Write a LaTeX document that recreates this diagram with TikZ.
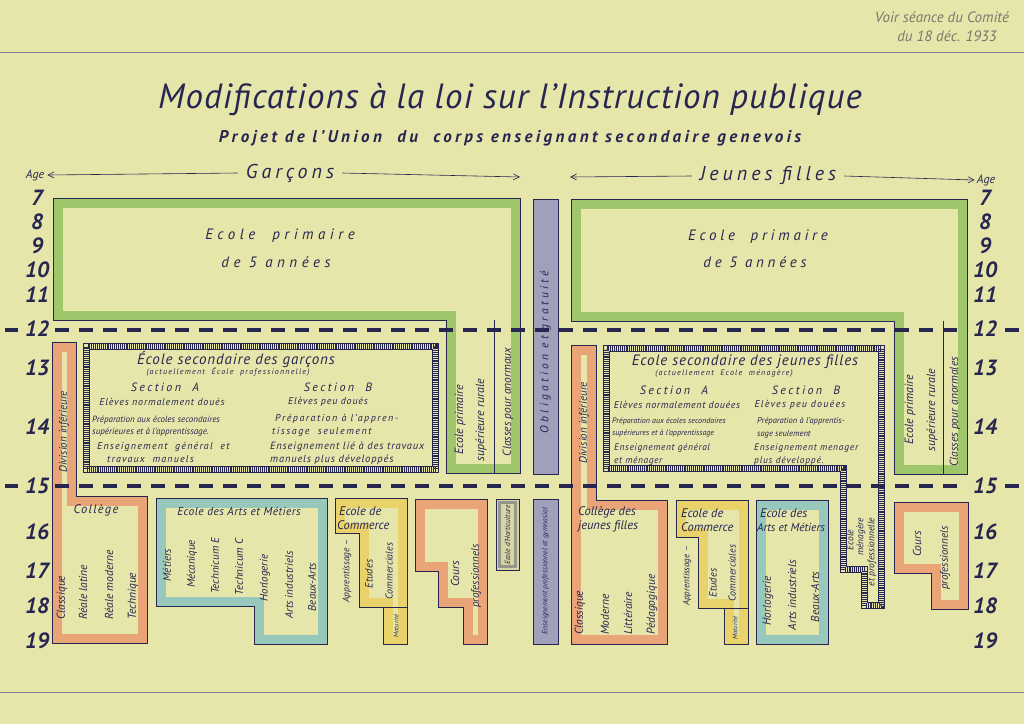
\documentclass[tikz,border=0pt]{standalone}
\usepackage{fontspec}
\setmainfont{PT Sans}
\usetikzlibrary{arrows.meta}
\definecolor{paper}{RGB}{230,229,170}
\definecolor{ink}{RGB}{38,38,80}
\definecolor{grn}{RGB}{112,178,64}
\definecolor{org}{RGB}{236,122,86}
\definecolor{ylw}{RGB}{236,198,64}
\definecolor{tealb}{RGB}{100,182,200}
\definecolor{lav}{RGB}{160,160,186}
\definecolor{hort}{RGB}{150,150,140}
\definecolor{pencil}{RGB}{120,120,110}
\newcommand\myfs[1]{\fontsize{#1}{#1}\selectfont}
\newcommand\lsp[1]{\addfontfeature{LetterSpace=#1}}
\begin{document}
\begin{tikzpicture}[x=1pt,y=-1pt,
  tx/.style={inner sep=0pt,text=ink,font=\itshape\myfs{#1}},
  tx/.default=10,
  rt/.style={inner sep=0pt,text=ink,rotate=90,font=\itshape\myfs{#1}},
  rt/.default=11,
  outl/.style={draw=ink,line width=1pt,line join=miter},
  band/.style={draw=#1,line width=9pt,draw opacity=0.6,line join=miter},
  dbl/.style={draw=ink,line width=7pt,line join=miter,
     postaction={draw=paper,line width=4.4pt},
     postaction={draw=ink,line width=4.4pt,dash pattern=on 0.6pt off 1.3pt}},
  agesep/.style={draw=ink,line width=4.5pt,dash pattern=on 14pt off 10pt},
  agesolid/.style={draw=ink,line width=4.5pt},
  age/.style={inner sep=0pt,text=ink,font=\bfseries\itshape\myfs{22}},
  hdr/.style={-{Straight Barb[length=6pt,width=6pt]},draw=ink,line width=0.6pt},
]
\useasboundingbox (0,0) rectangle (1024,724);
\fill[paper] (0,0) rectangle (1024,724);
\draw[ink!60,line width=0.8pt] (0,52) -- (1024,52);
\draw[ink!60,line width=0.8pt] (0,692) -- (1024,692);

% handwritten note
\node[inner sep=0pt,text=pencil,font=\itshape\myfs{15}] (note1) at (942,17) {Voir séance du Comité};
\node[inner sep=0pt,text=pencil,font=\itshape\myfs{15}] (note2) at (947,36) {du 18 déc. 1933};

% titles
\node[tx=35] (title) at (510,100) {\lsp{3}Modifications à la loi sur l'Instruction publique};
\node[tx=17,font=\bfseries\itshape\myfs{17}] (sub) at (510,138) {\lsp{20}Projet de l'Union\ \ du\ \ corps enseignant secondaire genevois};

% headers
\node[tx=12] (ageL) at (35,175) {Age};
\node[tx=20] (garc) at (290,173) {\lsp{20}Garçons};
\coordinate (garcR) at (520,177);
\draw[hdr] ([xshift=-8pt]garc.west) -- ([xshift=3pt]ageL.east);
\draw[hdr] ([xshift=8pt]garc.east) -- (garcR);
\node[tx=20] (jf) at (768,176) {\lsp{20}Jeunes filles};
\node[tx=12] (ageR) at (986,180) {Age};
\coordinate (jfL) at (570,177);
\draw[hdr] ([xshift=-8pt]jf.west) -- (jfL);
\draw[hdr] ([xshift=8pt]jf.east) -- ([xshift=-2pt]ageR.west);

% ages
\foreach \a/\y in {7/198,8/222,9/246,10/270,11/295,12/329,13/368,14/427,15/486,16/532,17/571,18/606,19/641}{
  \node[age] (L\a) at (37,\y) {\a};
  \node[age] (R\a) at (985,\y) {\a};
}

% ===== green primary schools =====
\path[band=grn] (58,203) -- (515,203) -- (515,468) -- (451,468) -- (451,315) -- (58,315) -- cycle;
\draw[outl] (53,198) -- (520,198) -- (520,473) -- (446,473) -- (446,320) -- (53,320) -- cycle;
\draw[outl] (494,320) -- (494,473);
\path[band=grn] (576,204) -- (962,204) -- (962,469) -- (899,469) -- (899,316) -- (576,316) -- cycle;
\draw[outl] (571,199) -- (967,199) -- (967,474) -- (894,474) -- (894,321) -- (571,321) -- cycle;
\draw[outl] (943,321) -- (943,474);

\node[tx=15] (epL1) at (280,236) {\lsp{30}Ecole\ \ primaire};
\node[tx=15] (epL2) at (276,262) {\lsp{30}de\ 5\ années};
\node[tx=15] (epR1) at (758,237) {\lsp{25}Ecole\ \ primaire};
\node[tx=15] (epR2) at (755,262) {\lsp{25}de\ 5\ années};

\node[rt=12] (rurL1) at (460,420) {Ecole primaire};
\node[rt=12] (rurL2) at (481,420) {supérieure rurale};
\node[rt=11.5] (anoL) at (508,402) {Classes pour anormaux};
\node[rt=12] (rurR1) at (910,410) {Ecole primaire};
\node[rt=12] (rurR2) at (932,410) {supérieure rurale};
\node[rt=11.5] (anoR) at (955,412) {Classes pour anormales};

% ===== middle strips =====
\draw[outl,fill=lav] (533,199) rectangle (558,474);
\node[rt=11.5] (oblig) at (545.5,352) {\lsp{28}Obligation et gratuité};
\draw[outl,fill=lav] (533,499) rectangle (558,644);
\node[rt=7.5] (ensprof) at (545.5,571) {Enseignement professionnel et gymnasial};
\draw[outl,fill=hort!20!paper] (496,499) rectangle (519,570);
\draw[hort,line width=3pt] (499.5,502.5) rectangle (515.5,566.5);
\node[rt=7.5] (horti) at (507.5,535) {Ecole d'Horticulture};

% ===== boys' secondary school =====
\draw[dbl] (86.5,346.5) rectangle (435.5,469.5);
\node[tx=15] (esg) at (236,360) {\lsp{6}École secondaire des garçons};
\node[tx=8] (esg2) at (228,372) {\lsp{15}(actuellement\ \ École\ \ professionnelle)};
\node[tx=12] (sgA) at (165,387) {\lsp{20}Section\ \ A};
\node[tx=12] (sgB) at (338,387) {\lsp{20}Section\ \ B};
\node[tx=10] (sgA1) at (162,402) {\lsp{8}Elèves normalement doués};
\node[tx=10] (sgB1) at (328,402) {\lsp{8}Elèves peu doués};
\node[tx=9,anchor=west] (sgA2) at (92,420) {Préparation aux écoles secondaires};
\node[tx=9,anchor=west] (sgA3) at (92,432) {supérieures et à l'apprentissage.};
\node[tx=10,anchor=west] (sgB2) at (275,419) {\lsp{15}Préparation à l'appren-};
\node[tx=10,anchor=west] (sgB3) at (272,432) {\lsp{15}tissage\ \ seulement};
\node[tx=10,anchor=west] (sgA4) at (97,447) {\lsp{12}Enseignement\ \ général\ \ et};
\node[tx=10,anchor=west] (sgA5) at (107,459) {\lsp{12}travaux\ \ manuels};
\node[tx=10.5,anchor=west] (sgB4) at (270,447) {\lsp{8}Enseignement lié à des travaux};
\node[tx=10.5,anchor=west] (sgB5) at (270,460) {\lsp{8}manuels plus développés};

% ===== girls' secondary school + école ménagère =====
\draw[dbl] (606.5,348.5) -- (881.5,348.5) -- (881.5,605.5) -- (864.5,605.5) -- (864.5,569.5) -- (843.5,569.5) -- (843.5,468.5) -- (606.5,468.5) -- cycle;
\node[tx=15] (esf) at (745,362) {\lsp{6}Ecole secondaire des jeunes filles};
\node[tx=8] (esf2) at (724,373) {\lsp{15}(actuellement\ \ Ecole\ \ ménagère)};
\node[tx=12] (sfA) at (674,390) {\lsp{20}Section\ \ A};
\node[tx=12] (sfB) at (806,390) {\lsp{20}Section\ \ B};
\node[tx=10] (sfA1) at (677,405) {\lsp{6}Elèves normalement douées};
\node[tx=10] (sfB1) at (800,405) {\lsp{12}Elèves peu douées};
\node[tx=8,anchor=west] (sfA2) at (612,421) {Préparation aux écoles secondaires};
\node[tx=8,anchor=west] (sfA3) at (612,433) {supérieures et à l'apprentissage};
\node[tx=8.5,anchor=west] (sfB2) at (757,421) {Préparation à l'apprentis-};
\node[tx=8.5,anchor=west] (sfB3) at (757,434) {sage seulement};
\node[tx=9.5,anchor=west] (sfA4) at (614,448) {\lsp{6}Enseignement général};
\node[tx=9.5,anchor=west] (sfA5) at (614,461) {\lsp{6}et ménager};
\node[tx=9.5,anchor=west] (sfB4) at (754,448) {\lsp{8}Enseignement menager};
\node[tx=9.5,anchor=west] (sfB5) at (754,461) {\lsp{8}plus développé.};
\node[rt=9.5] (men1) at (850,540) {Ecole};
\node[rt=9.5] (men2) at (861,537) {ménagère};
\node[rt=9.5] (men3) at (872,552) {et professionnelle};

% ===== lower left: Division inférieure / Collège =====
\path[band=org] (57,347) -- (71,347) -- (71,501) -- (142,501) -- (142,638) -- (57,638) -- cycle;
\draw[outl] (52,342) -- (76,342) -- (76,496) -- (147,496) -- (147,643) -- (52,643) -- cycle;
\node[rt=11] (divL) at (64,432) {Division inférieure};
\node[tx=12.5] (colL) at (96,510) {\lsp{10}Collège};
\node[rt=11.5,anchor=west] (cl1) at (62,620) {Classique};
\node[rt=11.5,anchor=west] (cl2) at (83,620) {Réale latine};
\node[rt=11.5,anchor=west] (cl3) at (109,620) {Réale moderne};
\node[rt=11.5,anchor=west] (cl4) at (133,620) {Technique};

% Arts et Métiers (left)
\path[band=tealb] (161,503) -- (322,503) -- (322,639) -- (259,639) -- (259,601) -- (161,601) -- cycle;
\draw[outl] (156,498) -- (327,498) -- (327,644) -- (254,644) -- (254,606) -- (156,606) -- cycle;
\node[tx=11.5] (aml) at (239,511) {\lsp{4}Ecole des Arts et Métiers};
\node[rt=11] (am1) at (167,565) {Métiers};
\node[rt=11] (am2) at (192,564) {Mécanique};
\node[rt=11] (am3) at (215,566) {Technicum E};
\node[rt=11] (am4) at (239,567) {Technicum C};
\node[rt=11] (am5) at (265,578) {Horlogerie};
\node[rt=11] (am6) at (289,585) {Arts industriels};
\node[rt=11] (am7) at (312,587) {Beaux-Arts};

% Commerce (left)
\path[band=ylw] (340,503) -- (402,503) -- (402,639) -- (388,639) -- (388,602) -- (364,602) -- (364,528) -- (340,528) -- cycle;
\draw[outl] (335,498) -- (407,498) -- (407,644) -- (383,644) -- (383,607) -- (359,607) -- (359,533) -- (335,533) -- cycle;
\draw[outl,line width=0.6pt] (383,607) -- (407,607);
\node[tx=12.5,anchor=west] (ecL1) at (339,511) {Ecole de};
\node[tx=12.5,anchor=west] (ecL2) at (337,525) {Commerce};
\node[rt=9.5] (appL) at (347,571) {Apprentissage --};
\node[rt=10.5] (etL1) at (369,574) {Etudes};
\node[rt=10] (etL2) at (389,571) {Commerciales};
\node[rt=6.5] (matL) at (396,626) {Maturité};

% Cours professionnels (left)
\path[band=org] (420,504) -- (482,504) -- (482,639) -- (468,639) -- (468,602) -- (443,602) -- (443,566) -- (420,566) -- cycle;
\draw[outl] (415,499) -- (487,499) -- (487,644) -- (463,644) -- (463,607) -- (438,607) -- (438,571) -- (415,571) -- cycle;
\node[rt=11.5] (cpL1) at (455,574) {Cours};
\node[rt=11] (cpL2) at (476,576) {professionnels};

% ===== lower right =====
\path[band=org] (576,350) -- (591,350) -- (591,505) -- (662,505) -- (662,639) -- (576,639) -- cycle;
\draw[outl] (571,345) -- (596,345) -- (596,500) -- (667,500) -- (667,644) -- (571,644) -- cycle;
\node[rt=11] (divR) at (584,423) {Division inférieure};
\node[tx=12.5,anchor=west] (colR1) at (578,512) {Collège des};
\node[tx=12.5,anchor=west] (colR2) at (578,526) {jeunes filles};
\node[rt=11.5,anchor=west] (cr1) at (580,635) {Classique};
\node[rt=11.5,anchor=west] (cr2) at (605,635) {Moderne};
\node[rt=11.5,anchor=west] (cr3) at (628,635) {Littéraire};
\node[rt=11.5,anchor=west] (cr4) at (652,635) {Pédagogique};

\path[band=ylw] (681,505) -- (743,505) -- (743,639) -- (729,639) -- (729,603) -- (703,603) -- (703,532) -- (681,532) -- cycle;
\draw[outl] (676,500) -- (748,500) -- (748,644) -- (724,644) -- (724,608) -- (698,608) -- (698,537) -- (676,537) -- cycle;
\draw[outl,line width=0.6pt] (724,608) -- (748,608);
\node[tx=12.5,anchor=west] (ecR1) at (681,513) {Ecole de};
\node[tx=12.5,anchor=west] (ecR2) at (681,527) {Commerce};
\node[rt=9] (appR) at (687,576) {Apprentissage --};
\node[rt=10.5] (etR1) at (713,583) {Etudes};
\node[rt=10] (etR2) at (732,573) {Commerciales};
\node[rt=6.5] (matR) at (735,628) {Maturité};

\path[band=tealb] (761,505) rectangle (823,639);
\draw[outl] (756,500) rectangle (828,644);
\node[tx=12.5,anchor=west] (amR1) at (760,513) {Ecole des};
\node[tx=11.5,anchor=west] (amR2) at (757,527) {Arts et Métiers};
\node[rt=11.5] (amr1) at (768,601) {Horlogerie};
\node[rt=11.5] (amr2) at (792,595) {Arts industriels};
\node[rt=11.5] (amr3) at (815,597) {Beaux-Arts};

\path[band=org] (899,507) -- (963,507) -- (963,604) -- (936,604) -- (936,568) -- (899,568) -- cycle;
\draw[outl] (894,502) -- (968,502) -- (968,609) -- (931,609) -- (931,573) -- (894,573) -- cycle;
\node[rt=11.5] (cpR1) at (917,544) {Cours};
\node[rt=11] (cpR2) at (945,558) {professionnels};

% ===== age separators =====
\draw[agesep] ([xshift=6pt]L12.east |- 0,330) -- ([xshift=-6pt]R12.west |- 0,330);
\draw[agesep] ([xshift=6pt]L15.east |- 0,486) -- ([xshift=-6pt]R15.west |- 0,486);
\draw[agesolid] ([xshift=-20pt]L12.west |- 0,330) -- ([xshift=-7pt]L12.west |- 0,330);
\draw[agesolid] ([xshift=-20pt]L15.west |- 0,486) -- ([xshift=-7pt]L15.west |- 0,486);
\draw[agesolid] ([xshift=8pt]R12.east |- 0,330) -- ([xshift=22pt]R12.east |- 0,330);
\draw[agesolid] ([xshift=8pt]R15.east |- 0,486) -- ([xshift=22pt]R15.east |- 0,486);
\end{tikzpicture}
\end{document}
